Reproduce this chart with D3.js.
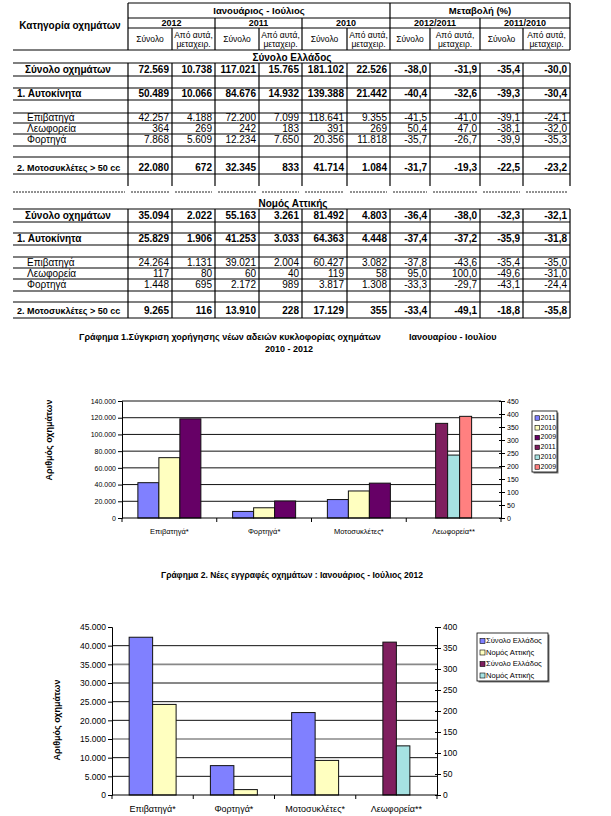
<!DOCTYPE html>
<html>
<head>
<meta charset="utf-8">
<script src="https://cdn.jsdelivr.net/npm/d3@7"></script>
<style>
body{margin:0;background:#fff;}
svg{font-family:'Liberation Sans',Arial,sans-serif;}
</style>
</head>
<body>
<script>
// table data : Ιανουάριος - Ιούλιος 2012 / 2011 / 2010 and changes
var rowLabels = ['Σύνολο  οχημάτων','1. Αυτοκίνητα','Επιβατηγά','Λεωφορεία','Φορτηγά','2. Μοτοσυκλέτες > 50 cc'];
var rowLabels2 = ['Σύνολο οχημάτων','1. Αυτοκίνητα','Επιβατηγά','Λεωφορεία','Φορτηγά','2. Μοτοσυκλέτες > 50 cc'];
var greeceTotal = [72569,10738,117021,15765,181102,22526,-38.0,-31.9,-35.4,-30.0];
var greeceCars  = [50489,10066,84676,14932,139388,21442,-40.4,-32.6,-39.3,-30.4];
var greecePass  = [42257,4188,72200,7099,118641,9355,-41.5,-41.0,-39.1,-24.1];
var greeceBus   = [364,269,242,183,391,269,50.4,47.0,-38.1,-32.0];
var greeceTruck = [7868,5609,12234,7650,20356,11818,-35.7,-26.7,-39.9,-35.3];
var greeceMoto  = [22080,672,32345,833,41714,1084,-31.7,-19.3,-22.5,-23.2];
var atticaTotal = [35094,2022,55163,3261,81492,4803,-36.4,-38.0,-32.3,-32.1];
var atticaCars  = [25829,1906,41253,3033,64363,4448,-37.4,-37.2,-35.9,-31.8];
var atticaPass  = [24264,1131,39021,2004,60427,3082,-37.8,-43.6,-35.4,-35.0];
var atticaBus   = [117,80,60,40,119,58,95.0,100.0,-49.6,-31.0];
var atticaTruck = [1448,695,2172,989,3817,1308,-33.3,-29.7,-43.1,-24.4];
var atticaMoto  = [9265,116,13910,228,17129,355,-33.4,-49.1,-18.8,-35.8];
var yearLabels = ['2012','2011','2010','2012/2011','2011/2010'];

// chart 1
var c1Categories = ['Επιβατηγά*','Φορτηγά*','Μοτοσυκλέτες*','Λεωφορεία**'];
var c1Blue   = [42257,7868,22080,null];
var c1Yellow = [72200,12234,32345,null];
var c1Purple = [118641,20356,41714,null];
var c1Wine   = [null,null,null,364];
var c1Cyan   = [null,null,null,242];
var c1Pink   = [null,null,null,391];
var c1Legend = ['2011','2010','2009','2011','2010','2009'];

// chart 2
var c2Categories = ['Επιβατηγά*','Φορτηγά*','Μοτοσυκλέτες*','Λεωφορεία**'];
var c2Blue   = [42257,7868,22080,null];
var c2Yellow = [24264,1448,9265,null];
var c2Wine   = [null,null,null,364];
var c2Cyan   = [null,null,null,117];
var c2Legend = ['Σύνολο Ελλάδος','Νομός Αττικής','Σύνολο Ελλάδος','Νομός Αττικής'];

var loc = d3.formatLocale({decimal:',',thousands:'.',grouping:[3],currency:['','€'],minus:'-'});
var fmtN = loc.format(',');
var fmtP = loc.format('.1f');

var svg = d3.select('body').append('svg').attr('width',611).attr('height',816);
svg.append('rect').attr('width',611).attr('height',816).attr('fill','#fff');

// ---------- table ----------
var cols = [128,172,215,259,302,347,390,430,480,523,570];
var t = svg.append('g');
function hl(x1,x2,y){ t.append('line').attr('x1',x1).attr('x2',x2).attr('y1',y).attr('y2',y).attr('stroke','#000').attr('stroke-width',1.2); }
function vl(x,y1,y2){ t.append('line').attr('x1',x).attr('x2',x).attr('y1',y1).attr('y2',y2).attr('stroke','#000').attr('stroke-width',1.2); }
function txt(s,x,y,size,bold,anchor){
  return t.append('text').attr('x',x).attr('y',y).attr('font-size',size).attr('font-weight',bold?'bold':'normal')
    .attr('text-anchor',anchor||'start').attr('fill','#000').text(s);
}

// header
hl(128,570,3); hl(128,570,18);
[[128,215],[215,302],[302,390],[390,480],[480,570]].forEach(function(p){ hl(p[0],p[1],28); });
hl(13,570,50); hl(13,570,63);
vl(128,3,50); vl(390,3,50); vl(570,3,50);
[215,302,480].forEach(function(x){ vl(x,18,50); });
[172,259,347,430,523].forEach(function(x){ vl(x,28,50); });
txt('Ιανουάριος - Ιούλιος',259,14,9.5,true,'middle');
txt('Μεταβολή (%)',480,14,9.5,true,'middle');
txt('Κατηγορία οχημάτων',70,29,10,true,'middle');
yearLabels.forEach(function(y,i){ txt(y,(cols[i*2]+cols[i*2+2])/2,26,9,true,'middle'); });
for(var i=0;i<5;i++){
  txt('Σύνολο',(cols[i*2]+cols[i*2+1])/2,42,8.5,false,'middle');
  txt('Από αυτά,',(cols[i*2+1]+cols[i*2+2])/2,38,8.5,false,'middle');
  txt('μεταχειρ.',(cols[i*2+1]+cols[i*2+2])/2,47,8.5,false,'middle');
}
txt('Σύνολο Ελλάδος',292,60.5,10,true,'middle');

function section(labels,rows,lines,cells,vTop,vBot){
  lines.forEach(function(y){ hl(13,570,y); });
  cols.forEach(function(x){ vl(x,vTop,vBot); });
  rows.forEach(function(vals,r){
    var c = cells[r], bold = (r===0||r===1||r===5);
    var lx = (r===1||r===5)?17:(r===0?25:27);
    txt(labels[r],lx,c,r===5?9:10,bold,'start');
    vals.forEach(function(v,j){
      txt(j<6?fmtN(v):fmtP(v),cols[j+1]-3,c,10,bold,'end');
    });
  });
}
section(rowLabels,[greeceTotal,greeceCars,greecePass,greeceBus,greeceTruck,greeceMoto],
  [76,88,100,113,123,134,146,157,174],[73,97,121,132,143,170.5],63,186);
// dashed separator
for(var k=-1;k<cols.length-1;k++){
  var a = k<0?13:cols[k]+3, b = k<0?125:cols[k+1]-3;
  t.append('line').attr('x1',a).attr('x2',b).attr('y1',192).attr('y2',192)
    .attr('stroke','#222').attr('stroke-width',1).attr('stroke-dasharray','2,1');
}
txt('Νομός Αττικής',293,206.5,10,true,'middle');
section(rowLabels2,[atticaTotal,atticaCars,atticaPass,atticaBus,atticaTruck,atticaMoto],
  [209,222,233,245,257,268,279,291,302,318],[219,242,266,277,288,314],209,318);

// ---------- charts ----------
function barChart(o){
  var g = svg.append('g');
  var x = d3.scaleBand().domain(o.categories).range([o.left,o.right]);
  var yL = d3.scaleLinear().domain([0,o.leftMax]).range([o.bottom,o.top]);
  var yR = d3.scaleLinear().domain([0,o.rightMax]).range([o.bottom,o.top]);
  var lt = d3.range(0,o.leftMax+1,o.leftStep), rt = d3.range(0,o.rightMax+1,o.rightStep);
  // gridlines
  g.selectAll('line.grid').data(lt.filter(function(d){ return d>0 && (o.gridTop||d<o.leftMax); }))
    .enter().append('line').attr('x1',o.left).attr('x2',o.right)
    .attr('y1',function(d){return yL(d);}).attr('y2',function(d){return yL(d);})
    .attr('stroke',function(d){ return o.grayGrid&&o.grayGrid.indexOf(d)>=0?'#888':'#111'; })
    .attr('stroke-width',function(d){ return o.grayGrid&&o.grayGrid.indexOf(d)>=0?1.6:1; });
  // bars
  function bars(series,colors,pad,y){
    var sub = d3.scaleBand().domain(d3.range(series.length)).range([0,x.bandwidth()]).paddingInner(0).paddingOuter(pad);
    series.forEach(function(vals,s){
      g.selectAll(null).data(vals.map(function(v,i){return {v:v,c:o.categories[i]};}).filter(function(d){return d.v!=null;}))
        .enter().append('rect')
        .attr('x',function(d){return x(d.c)+sub(s);}).attr('width',sub.bandwidth())
        .attr('y',function(d){return y(d.v);})
        .attr('height',function(d){return o.bottom-y(d.v);})
        .attr('fill',colors[s]).attr('stroke','#111').attr('stroke-width',1);
    });
  }
  bars(o.primary,o.primaryColors,o.padP,yL);
  bars(o.secondary,o.secondaryColors,o.padS,yR);
  // axes
  var ax = g.append('g').attr('transform','translate('+o.left+',0)')
    .call(d3.axisLeft(yL).tickValues(lt).tickFormat(fmtN).tickSizeOuter(0).tickSize(4).tickPadding(2));
  var ar = g.append('g').attr('transform','translate('+o.right+',0)')
    .call(d3.axisRight(yR).tickValues(rt).tickFormat(fmtN).tickSizeOuter(0).tickSize(4).tickPadding(2));
  [ax,ar].forEach(function(a){
    a.selectAll('text').attr('font-size',o.tickFont).attr('fill','#000').attr('font-family','Liberation Sans, Arial, sans-serif');
    a.selectAll('line,path').attr('stroke','#000');
  });
  ar.selectAll('.tick line').attr('x1',-2);
  g.append('line').attr('x1',o.left).attr('x2',o.right).attr('y1',o.bottom).attr('y2',o.bottom).attr('stroke','#000');
  var bounds = o.categories.map(function(c){return x(c);}).concat([o.right]);
  g.selectAll(null).data(bounds).enter().append('line')
    .attr('x1',function(d){return d;}).attr('x2',function(d){return d;})
    .attr('y1',o.bottom).attr('y2',o.bottom+4).attr('stroke','#000');
  g.selectAll(null).data(o.categories).enter().append('text')
    .attr('x',function(c){return x(c)+x.bandwidth()/2;}).attr('y',o.bottom+o.catDy)
    .attr('text-anchor','middle').attr('font-size',o.catFont).text(function(c){return c;});
  // y label
  g.append('text').attr('transform','translate('+o.ylx+','+o.yly+') rotate(-90)')
    .attr('text-anchor','middle').attr('dominant-baseline','middle')
    .attr('font-size',9).attr('font-weight','bold').text('Αριθμός οχημάτων');
  // legend
  var L = o.legend;
  g.append('rect').attr('x',L.x+1.5).attr('y',L.y+1.5).attr('width',L.w).attr('height',L.h).attr('fill','#777');
  g.append('rect').attr('x',L.x).attr('y',L.y).attr('width',L.w).attr('height',L.h).attr('fill','#fff').attr('stroke','#000').attr('stroke-width',0.8);
  var lc = o.primaryColors.concat(o.secondaryColors);
  L.labels.forEach(function(s,i){
    var cy = L.y + L.first + i*L.step;
    g.append('rect').attr('x',L.x+3).attr('y',cy-L.sw/2).attr('width',L.sw).attr('height',L.sw)
      .attr('fill',lc[i]).attr('stroke','#000').attr('stroke-width',0.6);
    g.append('text').attr('x',L.x+4+L.sw).attr('y',cy).attr('dominant-baseline','middle')
      .attr('font-size',L.font).text(s);
  });
}

var cBlue='#8080ff', cYellow='#ffffc0', cPurple='#660066', cWine='#7f1f5f', cCyan='#a6e2e2', cPink='#ff8080';

// chart 1 title
svg.append('text').attr('x',79).attr('y',340).attr('font-size',9).attr('font-weight','bold')
  .text('Γράφημα 1.Σύγκριση χορήγησης νέων αδειών κυκλοφορίας οχημάτων');
svg.append('text').attr('x',409).attr('y',340).attr('font-size',9).attr('font-weight','bold')
  .text('Ιανουαρίου - Ιουλίου');
svg.append('text').attr('x',289).attr('y',352).attr('text-anchor','middle').attr('font-size',9).attr('font-weight','bold')
  .text('2010 - 2012');

barChart({categories:c1Categories,left:122,right:501,top:401,bottom:518,
  leftMax:140000,leftStep:20000,rightMax:450,rightStep:50,gridTop:true,
  primary:[c1Blue,c1Yellow,c1Purple],primaryColors:[cBlue,cYellow,cPurple],padP:0.756,
  secondary:[c1Wine,c1Cyan,c1Pink],secondaryColors:[cWine,cCyan,cPink],padS:2.45,
  tickFont:7,catFont:7.5,catDy:16,ylx:50,yly:440,
  legend:{x:532,y:411,w:25,h:61,first:7,step:9.8,sw:4.5,font:7,labels:c1Legend}});

// chart 2 title
svg.append('text').attr('x',292).attr('y',578).attr('text-anchor','middle').attr('font-size',8.5).attr('font-weight','bold')
  .text('Γράφημα 2. Νέες εγγραφές οχημάτων : Ιανουάριος - Ιούλιος 2012');

barChart({categories:c2Categories,left:112,right:437,top:627,bottom:795,
  leftMax:45000,leftStep:5000,rightMax:400,rightStep:50,gridTop:false,grayGrid:[15000,35000],
  primary:[c2Blue,c2Yellow],primaryColors:[cBlue,cYellow],padP:0.73,
  secondary:[c2Wine,c2Cyan],secondaryColors:[cWine,cCyan],padS:2.01,
  tickFont:8.5,catFont:9,catDy:17,ylx:58,yly:720,
  legend:{x:477,y:633,w:71,h:48,first:8,step:11.5,sw:5,font:7.6,labels:c2Legend}});
</script>
</body>
</html>
